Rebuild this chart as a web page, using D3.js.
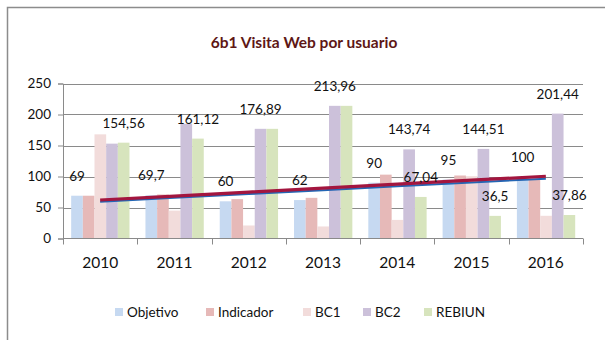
<!DOCTYPE html>
<html>
<head>
<meta charset="utf-8">
<script src="https://cdn.jsdelivr.net/npm/d3@7"></script>
<style>
  html, body { margin: 0; padding: 0; background: #fff; }
  svg { display: block; font-family: Lato, "Open Sans", sans-serif; }
</style>
</head>
<body>
<svg id="chart" width="605" height="340"></svg>
<script>
// Visitas web por usuario, 2010-2016
const years = ["2010", "2011", "2012", "2013", "2014", "2015", "2016"];
const seriesNames = ["Objetivo", "Indicador", "BC1", "BC2", "REBIUN"];

const objetivo  = [69, 69.7, 60, 62, 90, 95, 100];
const indicador = [69, 71, 63.5, 65.6, 103, 101.6, 95];
const bc1       = [168, 45, 21, 19.4, 30, 100.5, 36.6];
const bc2       = [153, 185, 176.89, 213.96, 143.74, 144.51, 201.44];
const rebiun    = [154.56, 161.12, 176.89, 213.96, 67.04, 36.5, 37.86];

// which points carry a value label (per series, per year)
const labelObjetivo = [true, true, true, true, true, true, true];
const labelBC2      = [false, false, true, true, true, true, true];
const labelRebiun   = [true, true, false, false, true, true, true];

const yTicks = [0, 50, 100, 150, 200, 250];
const colors = ["#c6d9f1", "#e6b9b8", "#f2dcdb", "#ccc1da", "#d7e4bd"];
const trendColors = { Objetivo: "#2466b4", Indicador: "#a3163f" };

const values = [objetivo, indicador, bc1, bc2, rebiun];
const rows = years.map((y, i) => ({
  year: y,
  vals: seriesNames.map((s, k) => ({ series: s, value: values[k][i], idx: i }))
}));

const svg = d3.select("#chart");
const fmt = v => String(v).replace(".", ",");

// chart frame
svg.append("path")
  .attr("d", "M7.5,340 V7.5 H605")
  .attr("fill", "none").attr("stroke", "#8c8c8c").attr("stroke-width", 1.5);

// title
svg.append("text")
  .attr("x", 304).attr("y", 48)
  .attr("text-anchor", "middle")
  .attr("font-size", 15.5).attr("font-weight", "bold")
  .attr("fill", "#5e1715")
  .text("6b1 Visita Web por usuario");

const x = d3.scaleBand().domain(years).range([63, 583]).padding(0);
const y = d3.scaleLinear().domain([0, 250]).range([238.5, 83.5]);
const bw = x.bandwidth();
const x1 = d3.scaleBand().domain(seriesNames).range([bw * 0.11, bw * 0.895]).padding(0);

// gridlines
svg.append("g").selectAll("line").data(yTicks.filter(t => t > 0)).join("line")
  .attr("x1", 63).attr("x2", 583)
  .attr("y1", d => Math.round(y(d)) + 0.5).attr("y2", d => Math.round(y(d)) + 0.5)
  .attr("stroke", "#8a8a8a").attr("stroke-width", 1);

// bars
const groups = svg.append("g").selectAll("g").data(rows).join("g")
  .attr("transform", d => `translate(${x(d.year)},0)`);
groups.selectAll("rect").data(d => d.vals).join("rect")
  .attr("x", d => x1(d.series))
  .attr("width", x1.bandwidth())
  .attr("y", d => y(d.value))
  .attr("height", d => y(0) - y(d.value))
  .attr("fill", (d, i) => colors[i]);

// y axis
const yAxis = svg.append("g").attr("transform", "translate(63,0)")
  .call(d3.axisLeft(y).tickValues(yTicks).tickSize(5).tickPadding(7).tickFormat(d3.format("d")));
yAxis.select(".domain").attr("stroke", "#8a8a8a");
yAxis.selectAll(".tick line").attr("stroke", "#8a8a8a");
yAxis.selectAll("text").attr("font-size", 13.5).attr("fill", "#111").attr("font-family", "Lato, sans-serif");

// x axis with ticks between categories
const xAxisG = svg.append("g").attr("transform", `translate(0,${y(0)})`);
xAxisG.append("line").attr("x1", 63).attr("x2", 583).attr("stroke", "#8a8a8a");
xAxisG.selectAll("line.tk").data(years.concat(["end"])).join("line").attr("class", "tk")
  .attr("x1", (d, i) => Math.round(63 + i * bw) + 0.5)
  .attr("x2", (d, i) => Math.round(63 + i * bw) + 0.5)
  .attr("y1", 0).attr("y2", 6).attr("stroke", "#8a8a8a");
xAxisG.selectAll("text").data(years).join("text")
  .attr("x", d => x(d) + bw / 2).attr("y", 29)
  .attr("text-anchor", "middle").attr("font-size", 15.5).attr("fill", "#111")
  .text(d => d);

// linear trend lines (least squares over year index)
function trend(vals) {
  const n = vals.length;
  const xs = d3.range(n);
  const mx = d3.mean(xs), my = d3.mean(vals);
  const sxy = d3.sum(xs, i => (i - mx) * (vals[i] - my));
  const sxx = d3.sum(xs, i => (i - mx) * (i - mx));
  const b = sxy / sxx, a = my - b * mx;
  return xs.map(i => a + b * i);
}
const line = d3.line().x((d, i) => x(years[i]) + bw / 2).y(d => y(d));
svg.append("path").datum(trend(objetivo))
  .attr("d", line).attr("fill", "none")
  .attr("stroke", trendColors.Objetivo).attr("stroke-width", 2);
svg.append("path").datum(trend(indicador))
  .attr("d", line).attr("fill", "none")
  .attr("stroke", trendColors.Indicador).attr("stroke-width", 3.2);

// value labels
const labels = [];
years.forEach((yr, i) => {
  if (labelObjetivo[i]) labels.push({ yr, s: "Objetivo", v: objetivo[i] });
  if (labelBC2[i]) labels.push({ yr, s: "BC2", v: bc2[i] });
  if (labelRebiun[i]) labels.push({ yr, s: "REBIUN", v: rebiun[i] });
});
svg.append("g").selectAll("text").data(labels).join("text")
  .attr("x", d => x(d.yr) + x1(d.s) + x1.bandwidth() / 2)
  .attr("y", d => y(d.v) - 15)
  .attr("text-anchor", "middle").attr("font-size", 13.5).attr("fill", "#111")
  .text(d => fmt(d.v));

// legend
const legendX = [115, 206, 303, 363, 424];
const lg = svg.append("g").selectAll("g").data(seriesNames).join("g")
  .attr("transform", (d, i) => `translate(${legendX[i]},308)`);
lg.append("rect").attr("width", 8).attr("height", 8).attr("fill", (d, i) => colors[i]);
lg.append("text").attr("x", 12).attr("y", 8.5)
  .attr("font-size", 13.5).attr("fill", "#111").text(d => d);
</script>
</body>
</html>
